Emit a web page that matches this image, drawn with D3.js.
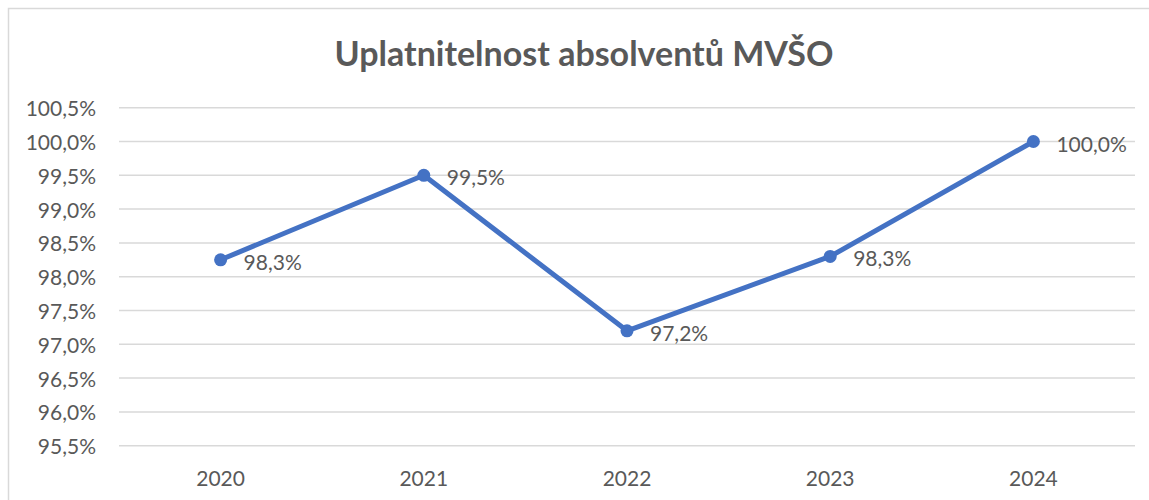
<!DOCTYPE html>
<html>
<head>
<meta charset="utf-8">
<script src="https://cdn.jsdelivr.net/npm/d3@7"></script>
<style>
  body { margin: 0; background: #fff; }
  svg { display: block; font-family: Lato, "Open Sans", sans-serif; }
</style>
</head>
<body>
<svg id="chart" width="1149" height="500"></svg>
<script>
// Data
const years = ["2020", "2021", "2022", "2023", "2024"];
const values = [98.25, 99.5, 97.2, 98.3, 100.0];
const valueLabels = ["98,3%", "99,5%", "97,2%", "98,3%", "100,0%"];
const yTicks = [95.5, 96.0, 96.5, 97.0, 97.5, 98.0, 98.5, 99.0, 99.5, 100.0, 100.5];

const svg = d3.select("#chart");
const textColor = "#595959";
const lineColor = "#4472C4";

// Chart border
svg.append("rect")
    .attr("x", 8.5).attr("y", 8.5)
    .attr("width", 1160).attr("height", 520)
    .attr("fill", "none")
    .attr("stroke", "#d9d9d9")
    .attr("stroke-width", 1.5);

// Title
svg.append("text")
    .attr("x", 584).attr("y", 52)
    .attr("text-anchor", "middle")
    .attr("dominant-baseline", "central")
    .attr("font-size", 34)
    .attr("font-weight", "bold")
    .attr("fill", textColor)
    .text("Uplatnitelnost absolventů MVŠO");

const x = d3.scalePoint()
    .domain(years)
    .range([119, 1135])
    .padding(0.5);

const y = d3.scaleLinear()
    .domain([95.5, 100.5])
    .range([445.7, 107.7]);

const fmt = v => v.toFixed(1).replace(".", ",") + "%";

// Gridlines
svg.append("g")
    .selectAll("line")
    .data(yTicks)
    .enter()
    .append("line")
    .attr("x1", 119).attr("x2", 1135)
    .attr("y1", d => y(d)).attr("y2", d => y(d))
    .attr("stroke", "#d9d9d9")
    .attr("stroke-width", 1.5);

// Y axis labels
svg.append("g")
    .selectAll("text")
    .data(yTicks)
    .enter()
    .append("text")
    .attr("x", 96)
    .attr("y", d => y(d))
    .attr("text-anchor", "end")
    .attr("dominant-baseline", "central")
    .attr("font-size", 21)
    .attr("fill", textColor)
    .text(fmt);

// X axis labels
svg.append("g")
    .selectAll("text")
    .data(years)
    .enter()
    .append("text")
    .attr("x", d => x(d))
    .attr("y", 477)
    .attr("text-anchor", "middle")
    .attr("dominant-baseline", "central")
    .attr("font-size", 21)
    .attr("fill", textColor)
    .text(d => d);

// Line
const line = d3.line()
    .x((d, i) => x(years[i]))
    .y(d => y(d));

svg.append("path")
    .datum(values)
    .attr("d", line)
    .attr("fill", "none")
    .attr("stroke", lineColor)
    .attr("stroke-width", 5)
    .attr("stroke-linejoin", "round");

// Markers
svg.append("g")
    .selectAll("circle")
    .data(values)
    .enter()
    .append("circle")
    .attr("cx", (d, i) => x(years[i]))
    .attr("cy", d => y(d))
    .attr("r", 6.5)
    .attr("fill", lineColor);

// Data labels
svg.append("g")
    .selectAll("text")
    .data(values)
    .enter()
    .append("text")
    .attr("x", (d, i) => x(years[i]) + 23)
    .attr("y", d => y(d) + 1.5)
    .attr("dominant-baseline", "central")
    .attr("font-size", 21)
    .attr("fill", textColor)
    .text((d, i) => valueLabels[i]);
</script>
</body>
</html>
